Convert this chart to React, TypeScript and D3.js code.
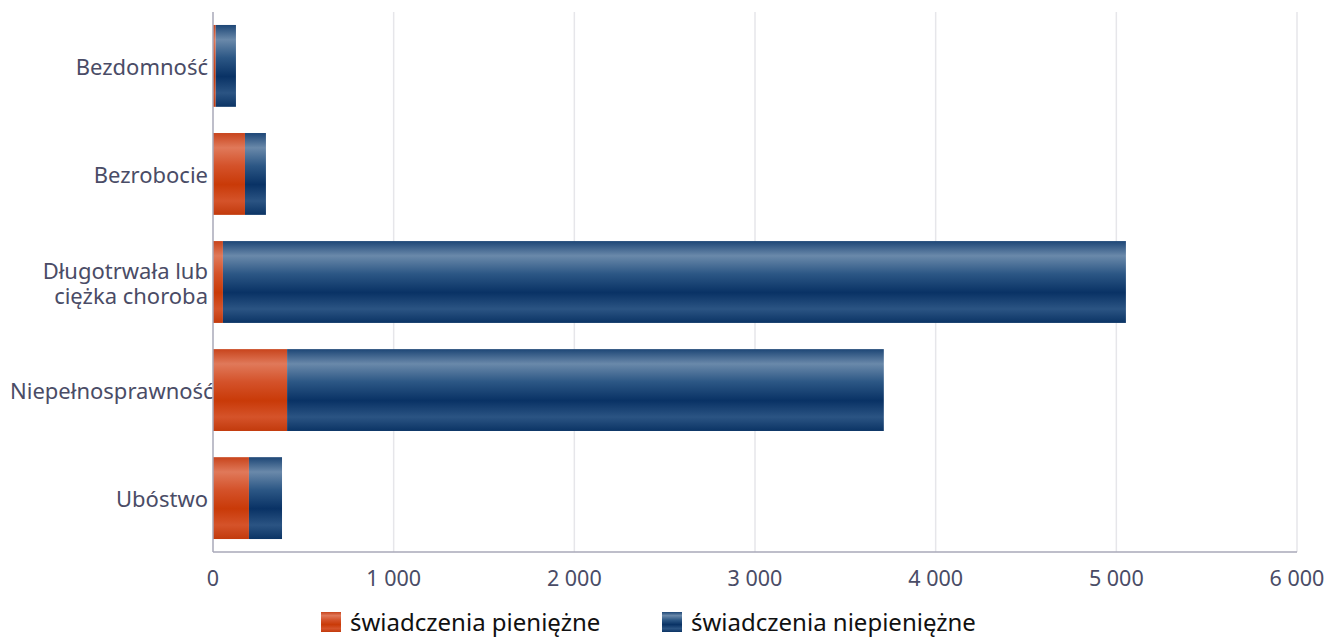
import React from 'react';
import * as d3 from 'd3';

const categories = ['Bezdomność', 'Bezrobocie', 'Długotrwała lub ciężka choroba', 'Niepełnosprawność', 'Ubóstwo'];
const labelLines = [['Bezdomność'], ['Bezrobocie'], ['Długotrwała lub', 'ciężka choroba'], ['Niepełnosprawność'], ['Ubóstwo']];
const cash = [15, 177, 55, 410, 199];
const nonCash = [112, 116, 4998, 3303, 183];
const ticks = [0, 1000, 2000, 3000, 4000, 5000, 6000];
const seriesNames = ['świadczenia pieniężne', 'świadczenia niepieniężne'];

const W = 1338;
const H = 638;
const margin = { left: 213, right: 41, top: 12, bottom: 86 };
const font = '"Noto Sans", "Open Sans", sans-serif';
const textColor = '#4a4c66';

const fmt = (v: number) => d3.format(',')(v).replace(/,/g, ' ');

export default function App() {
  const x = d3.scaleLinear().domain([0, 6000]).range([margin.left, W - margin.right]);
  const y = d3.scaleBand<string>().domain(categories).range([margin.top, H - margin.bottom])
    .paddingInner(0.2425).paddingOuter(0.12);
  const bottom = H - margin.bottom;

  return (
    <svg width={W} height={H} style={{ position: 'absolute', left: 0, top: 0, fontFamily: font }}>
      <defs>
        <linearGradient id="gBlue" x1="0" y1="0" x2="0" y2="1">
          <stop offset="0" stopColor="#1d4676" />
          <stop offset="0.18" stopColor="#6a89aa" />
          <stop offset="0.4" stopColor="#2c5785" />
          <stop offset="0.63" stopColor="#093265" />
          <stop offset="0.83" stopColor="#2b5483" />
          <stop offset="1" stopColor="#0b3465" />
        </linearGradient>
        <linearGradient id="gOrange" x1="0" y1="0" x2="0" y2="1">
          <stop offset="0" stopColor="#c8441c" />
          <stop offset="0.18" stopColor="#e0795a" />
          <stop offset="0.4" stopColor="#d4522a" />
          <stop offset="0.63" stopColor="#c93a08" />
          <stop offset="0.83" stopColor="#d5532a" />
          <stop offset="1" stopColor="#c23a0c" />
        </linearGradient>
      </defs>
      {ticks.slice(1).map(t => (
        <line key={t} x1={x(t)} x2={x(t)} y1={margin.top} y2={bottom} stroke="#e6e6ea" strokeWidth={1.5} />
      ))}
      {labelLines.map((lines, i) => {
        const cy = (y(categories[i]) ?? 0) + y.bandwidth() / 2;
        // a too-long label starts at the left edge and runs under the bars, as in the source
        const long = lines[0].length > 15;
        return lines.map((l, j) => (
          <text key={`${i}-${j}`} x={long ? 10 : 208} y={cy + 9 + (j - (lines.length - 1) / 2) * 25}
            textAnchor={long ? 'start' : 'end'} fill={textColor} fontSize={22}>{l}</text>
        ));
      })}
      {categories.map((c, i) => (
        <g key={c}>
          <rect x={x(0)} y={y(c)} width={x(cash[i]) - x(0)} height={y.bandwidth()} fill="url(#gOrange)" />
          <rect x={x(cash[i])} y={y(c)} width={x(cash[i] + nonCash[i]) - x(cash[i])} height={y.bandwidth()} fill="url(#gBlue)" />
        </g>
      ))}
      <line x1={x(0)} x2={x(0)} y1={margin.top} y2={bottom} stroke="#a8a8b8" strokeWidth={1.5} />
      <line x1={x(0)} x2={x(6000)} y1={bottom} y2={bottom} stroke="#a8a8b8" strokeWidth={1.5} />
      {ticks.map(t => (
        <text key={t} x={x(t)} y={586} textAnchor="middle" fill={textColor} fontSize={21.5}>{fmt(t)}</text>
      ))}
      {seriesNames.map((s, i) => {
        const lx = i === 0 ? 321 : 662;
        return (
          <g key={s}>
            <rect x={lx} y={612} width={20} height={20} fill={i === 0 ? 'url(#gOrange)' : 'url(#gBlue)'} />
            <text x={lx + 29} y={631} fill="#111" fontSize={24}>{s}</text>
          </g>
        );
      })}
    </svg>
  );
}
